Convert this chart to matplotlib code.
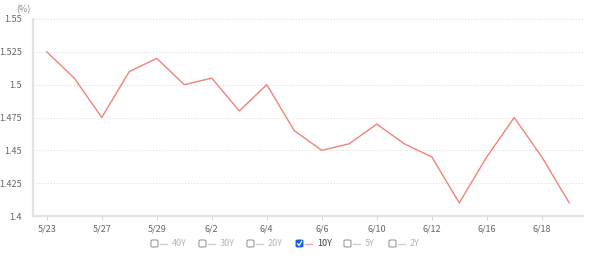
import matplotlib
matplotlib.use("Agg")
import matplotlib.pyplot as plt
from matplotlib.patches import FancyBboxPatch
from matplotlib.lines import Line2D

plt.rcParams["font.family"] = ["Noto Sans CJK JP", "DejaVu Sans"]

dates = ["5/23", "5/26", "5/27", "5/28", "5/29", "5/30", "6/2", "6/3", "6/4", "6/5",
         "6/6", "6/9", "6/10", "6/11", "6/12", "6/13", "6/16", "6/17", "6/18", "6/19"]
yield_10y = [1.525, 1.505, 1.475, 1.51, 1.52, 1.50, 1.505, 1.48, 1.50, 1.465,
             1.45, 1.455, 1.47, 1.455, 1.445, 1.41, 1.445, 1.475, 1.445, 1.41]
y_ticks = [1.4, 1.425, 1.45, 1.475, 1.5, 1.525, 1.55]
y_tick_labels = ["1.4", "1.425", "1.45", "1.475", "1.5", "1.525", "1.55"]
legend_names = ["40Y", "30Y", "20Y", "10Y", "5Y", "2Y"]
legend_active = [False, False, False, True, False, False]

W, H = 600, 261
LINE = "#f2827c"
TEXT = "#666666"
GRID = "#d9d9d9"

fig = plt.figure(figsize=(W / 100, H / 100), dpi=100)
ax = fig.add_axes([33 / W, 1 - 216 / H, (583 - 33) / W, (216 - 19) / H])

x = list(range(len(dates)))
ax.plot(x, yield_10y, color=LINE, linewidth=1.0)

ax.set_xlim(-0.5, len(dates) - 0.5)
ax.set_ylim(1.4, 1.55)
ax.set_yticks(y_ticks)
ax.set_yticklabels(y_tick_labels)
ax.set_xticks(x[::2])
ax.set_xticklabels(dates[::2])

ax.grid(axis="y", color=GRID, linestyle=(0, (1, 2)), linewidth=0.7)
ax.set_axisbelow(True)
for s in ["top", "right"]:
    ax.spines[s].set_visible(False)
for s in ["left", "bottom"]:
    ax.spines[s].set_color("#e3e3e3")
    ax.spines[s].set_linewidth(1.6)
ax.tick_params(axis="y", length=0, labelsize=6.5, colors=TEXT, pad=8)
ax.tick_params(axis="x", length=3, width=0.6, color="#cccccc", labelsize=6.5,
               labelcolor=TEXT, pad=3)

fig.text(16 / W, 1 - 10 / H, "(%)", fontsize=6.5, color="#888888", va="center", ha="left")

# legend drawn by hand: checkbox + line + label
box_x = [151, 199, 247, 296, 344, 389]
for bx, name, on in zip(box_x, legend_names, legend_active):
    yc = 243.5
    box = FancyBboxPatch(((bx) / W, 1 - (yc + 3.5) / H), 7 / W, 7 / H,
                         boxstyle="round,pad=0,rounding_size=0.003",
                         transform=fig.transFigure,
                         facecolor="#1a5fd8" if on else "white",
                         edgecolor="#1a5fd8" if on else "#8c8c8c",
                         linewidth=0.7)
    fig.add_artist(box)
    if on:
        fig.add_artist(Line2D([(bx + 1.6) / W, (bx + 3.2) / W, (bx + 5.6) / W],
                              [1 - (yc + 0.2) / H, 1 - (yc + 2) / H, 1 - (yc - 2.2) / H],
                              transform=fig.transFigure, color="white", linewidth=0.9))
    fig.add_artist(Line2D([(bx + 9) / W, (bx + 16) / W], [1 - yc / H, 1 - yc / H],
                          transform=fig.transFigure,
                          color="#f4a9a6" if on else "#d0d0d0", linewidth=1.0))
    fig.text((bx + 21) / W, 1 - yc / H, name, fontsize=6.5,
             color="#444444" if on else "#b5b5b5", va="center", ha="left")

fig.savefig("out.png", dpi=100)
